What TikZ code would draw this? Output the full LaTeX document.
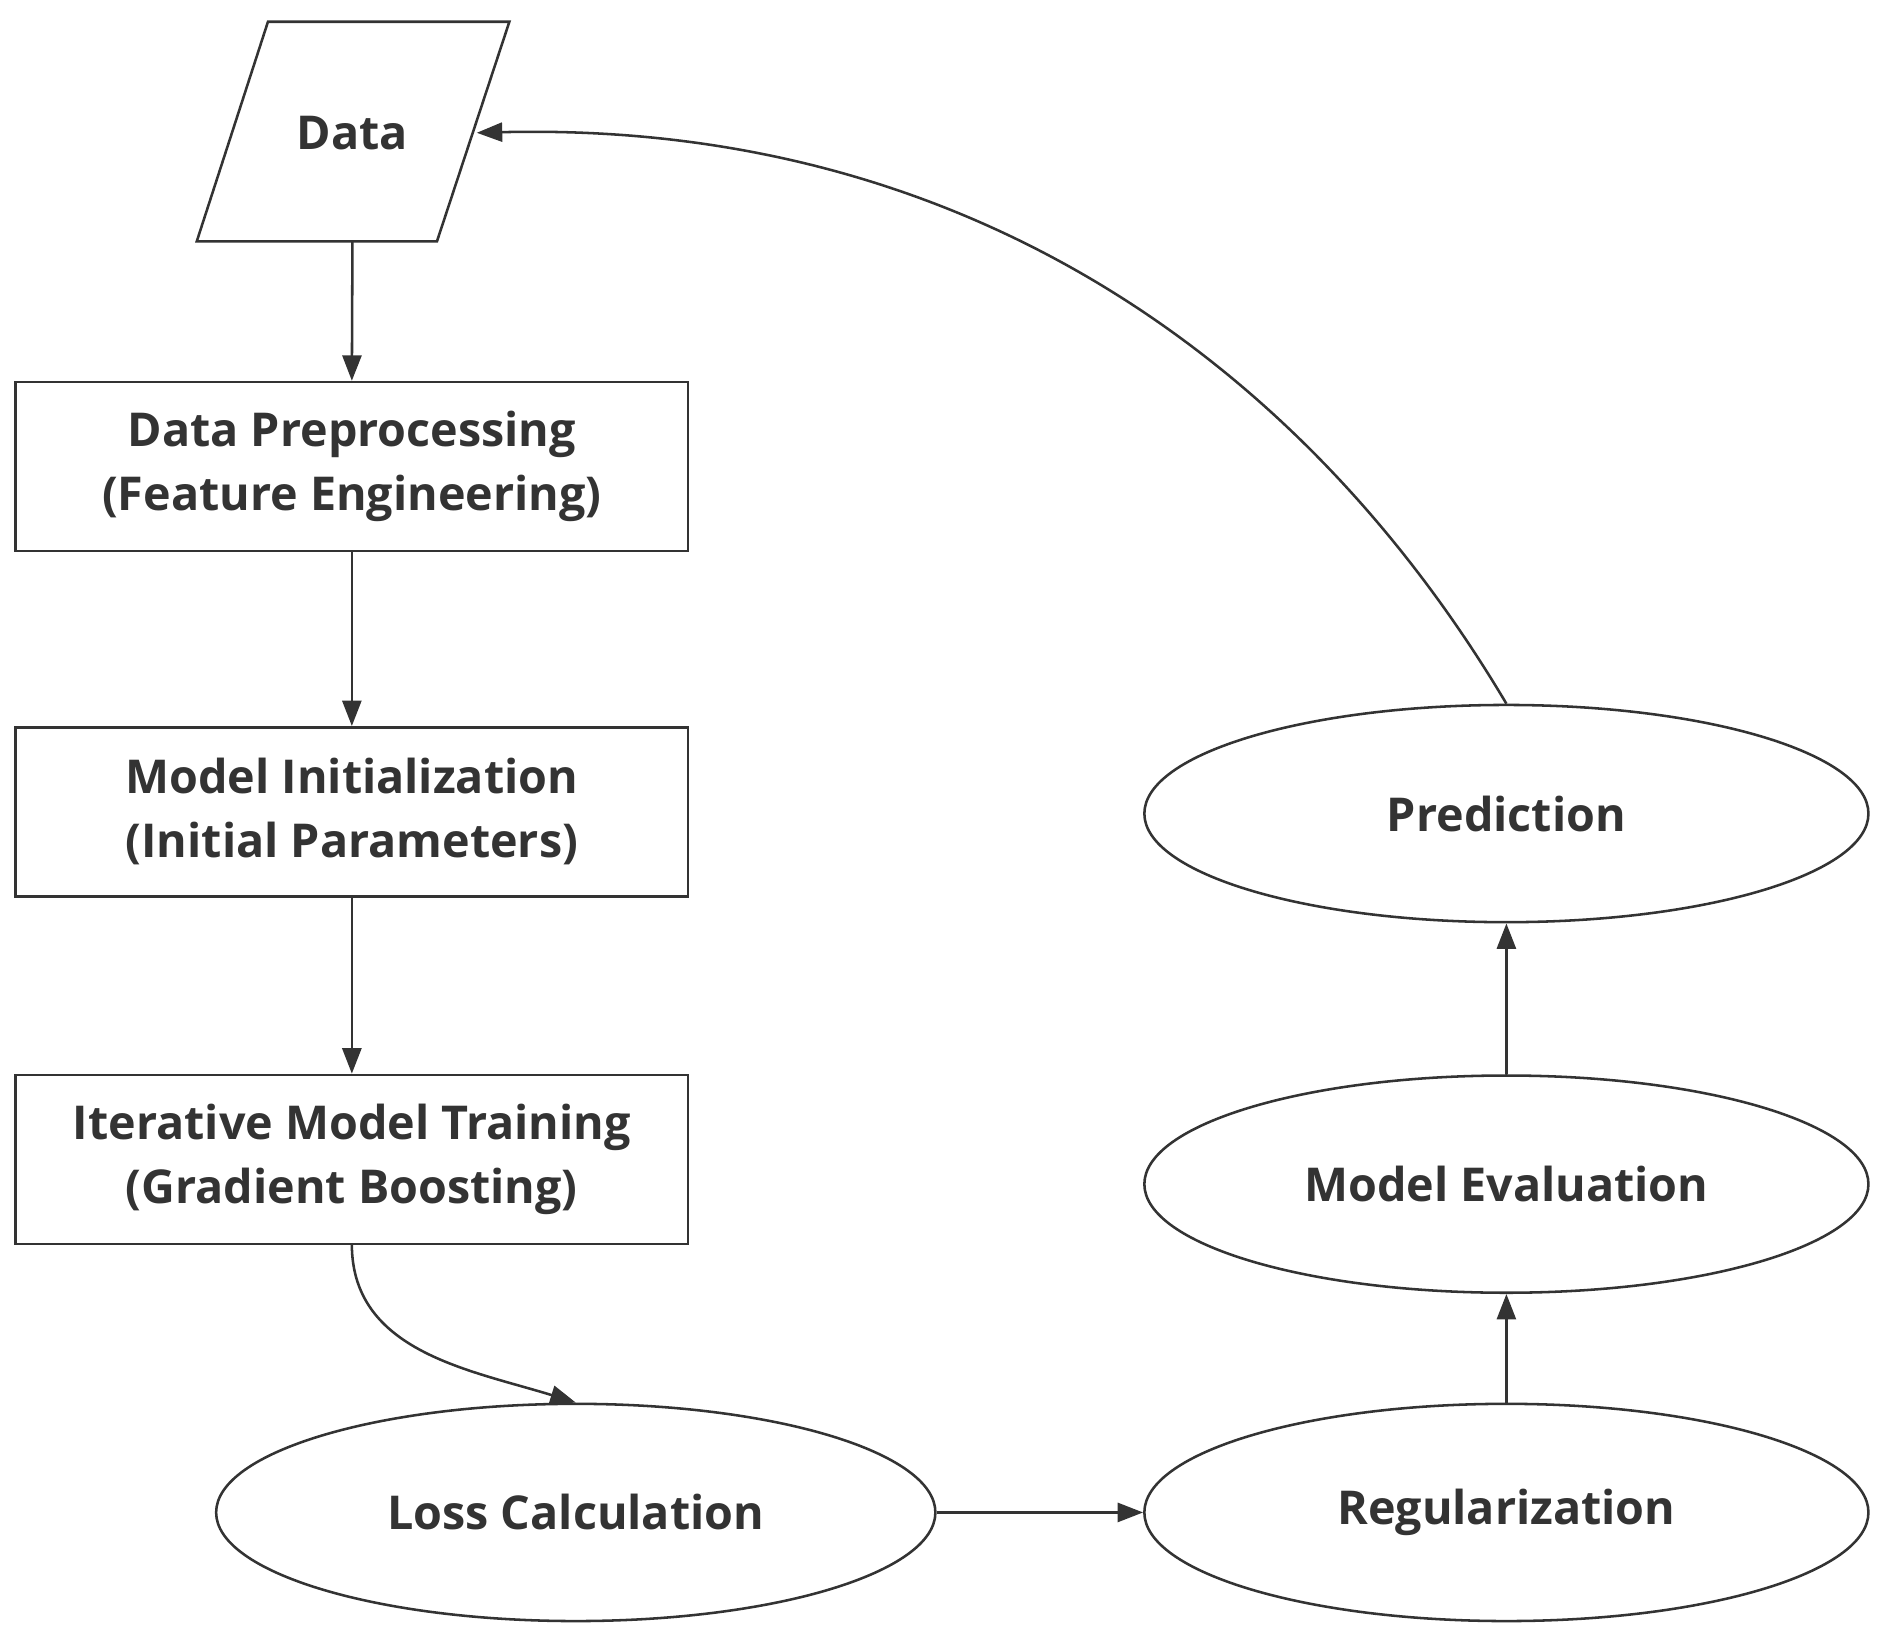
\documentclass[tikz,border=0pt]{standalone}
\usepackage{fontspec}
\setmainfont{Open Sans}
\usetikzlibrary{shapes.geometric,arrows.meta}
\begin{document}
\begin{tikzpicture}[x=0.02cm,y=-0.02cm,
  line width=1.2pt, draw=black!80,
  txt/.style={font=\fontsize{22}{30}\selectfont\bfseries, text=black!80, align=center},
  box/.style={txt, draw, rectangle, minimum width=11.14cm, minimum height=2.8cm},
  ell/.style={txt, draw, ellipse, minimum width=12cm, minimum height=3.6cm, inner sep=0pt},
  arr/.style={-{Triangle[length=12pt,width=9pt]}, draw=black!80}]
\useasboundingbox (0,0) rectangle (1560,1350);
\draw (222,18) -- (422,18) -- (362,200) -- (163,200) -- cycle;
\node[txt] (data) at (292,110) {Data};
\coordinate (dbot) at (292,200);
\coordinate (din) at (395,110);
\node[box] (pre) at (291.5,386.5) {Data Preprocessing\\(Feature Engineering)};
\node[box] (init) at (291.5,672.5) {Model Initialization\\(Initial Parameters)};
\node[box] (train) at (291.5,960.5) {Iterative Model Training\\(Gradient Boosting)};
\node[ell,minimum width=11.92cm] (loss) at (477,1253) {Loss Calculation};
\node[ell] (reg) at (1248,1253) {Regularization};
\node[ell] (eval) at (1248,981) {Model Evaluation};
\node[ell] (pred) at (1248,674) {Prediction};
\draw[arr] (dbot) -- (pre.north);
\draw[arr] (pre) -- (init);
\draw[arr] (init) -- (train);
\draw[arr] (train.south) .. controls (292,1120) and (390,1135) .. (loss.north);
\draw[arr] (loss) -- (reg);
\draw[arr] (reg) -- (eval);
\draw[arr] (eval) -- (pred);
\draw[arr] (pred.north) .. controls (1080,300) and (800,100) .. (din);
\end{tikzpicture}
\end{document}
